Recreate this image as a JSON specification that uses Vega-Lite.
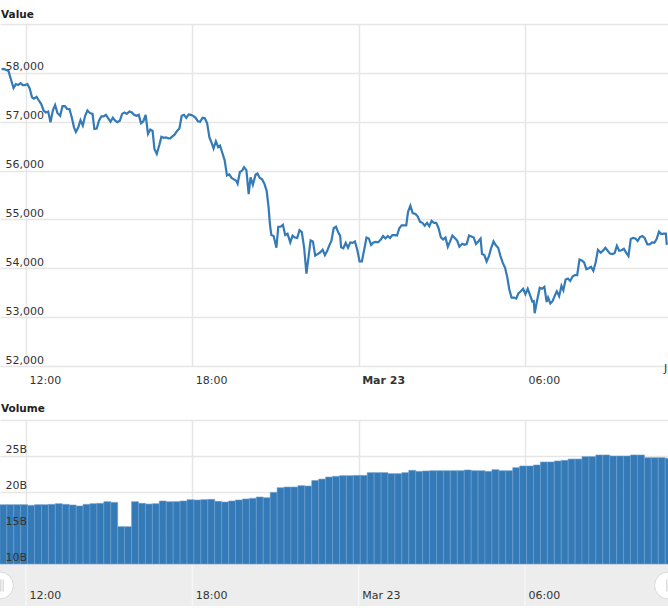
{"$schema":"https://vega.github.io/schema/vega-lite/v6.json","padding":{"left":0,"top":9,"right":0,"bottom":0},"background":"white","spacing":18,"config":{"font":"DejaVu Sans","view":{"stroke":null},"title":{"anchor":"start","fontSize":10.5,"fontWeight":"bold","color":"#222222","dx":1}},
"datasets":{"ticks":[{"t":"2021-03-22T12:00Z"},{"t":"2021-03-22T18:00Z"},{"t":"2021-03-23T00:00Z"},{"t":"2021-03-23T06:00Z"}],
"note":[{"t":"2021-03-23T11:01Z","v":51940,"label":"J"}],
"handles":[{"t":"2021-03-22T11:03:42Z"},{"t":"2021-03-23T11:09:36Z"}],
"grips":[{"t":"2021-03-22T11:05:12Z"},{"t":"2021-03-22T11:10:36Z"},{"t":"2021-03-23T11:07:00Z"}],
"vol":[{"t":"2021-03-22T11:11Z","v":18240000000},{"t":"2021-03-22T11:26Z","v":18240000000},{"t":"2021-03-22T11:41Z","v":18240000000},{"t":"2021-03-22T11:56Z","v":18240000000},{"t":"2021-03-22T12:11Z","v":18150000000},{"t":"2021-03-22T12:26Z","v":18240000000},{"t":"2021-03-22T12:41Z","v":18240000000},{"t":"2021-03-22T12:56Z","v":18290000000},{"t":"2021-03-22T13:11Z","v":18380000000},{"t":"2021-03-22T13:26Z","v":18290000000},{"t":"2021-03-22T13:41Z","v":18200000000},{"t":"2021-03-22T13:56Z","v":18060000000},{"t":"2021-03-22T14:11Z","v":18290000000},{"t":"2021-03-22T14:26Z","v":18380000000},{"t":"2021-03-22T14:41Z","v":18430000000},{"t":"2021-03-22T14:56Z","v":18660000000},{"t":"2021-03-22T15:11Z","v":18560000000},{"t":"2021-03-22T15:26Z","v":15190000000},{"t":"2021-03-22T15:41Z","v":15190000000},{"t":"2021-03-22T15:56Z","v":18660000000},{"t":"2021-03-22T16:11Z","v":18430000000},{"t":"2021-03-22T16:26Z","v":18330000000},{"t":"2021-03-22T16:41Z","v":18380000000},{"t":"2021-03-22T16:56Z","v":18750000000},{"t":"2021-03-22T17:11Z","v":18660000000},{"t":"2021-03-22T17:26Z","v":18660000000},{"t":"2021-03-22T17:41Z","v":18750000000},{"t":"2021-03-22T17:56Z","v":18940000000},{"t":"2021-03-22T18:11Z","v":18890000000},{"t":"2021-03-22T18:26Z","v":18940000000},{"t":"2021-03-22T18:41Z","v":18980000000},{"t":"2021-03-22T18:56Z","v":18700000000},{"t":"2021-03-22T19:11Z","v":18610000000},{"t":"2021-03-22T19:26Z","v":18750000000},{"t":"2021-03-22T19:41Z","v":18890000000},{"t":"2021-03-22T19:56Z","v":19030000000},{"t":"2021-03-22T20:11Z","v":19120000000},{"t":"2021-03-22T20:26Z","v":19310000000},{"t":"2021-03-22T20:41Z","v":19210000000},{"t":"2021-03-22T20:56Z","v":19950000000},{"t":"2021-03-22T21:11Z","v":20600000000},{"t":"2021-03-22T21:26Z","v":20690000000},{"t":"2021-03-22T21:41Z","v":20690000000},{"t":"2021-03-22T21:56Z","v":20880000000},{"t":"2021-03-22T22:11Z","v":20830000000},{"t":"2021-03-22T22:26Z","v":21600000000},{"t":"2021-03-22T22:41Z","v":21800000000},{"t":"2021-03-22T22:56Z","v":22080000000},{"t":"2021-03-22T23:11Z","v":22180000000},{"t":"2021-03-22T23:26Z","v":22270000000},{"t":"2021-03-22T23:41Z","v":22270000000},{"t":"2021-03-22T23:56Z","v":22310000000},{"t":"2021-03-23T00:11Z","v":22310000000},{"t":"2021-03-23T00:26Z","v":22690000000},{"t":"2021-03-23T00:41Z","v":22690000000},{"t":"2021-03-23T00:56Z","v":22690000000},{"t":"2021-03-23T01:11Z","v":22550000000},{"t":"2021-03-23T01:26Z","v":22550000000},{"t":"2021-03-23T01:41Z","v":22690000000},{"t":"2021-03-23T01:56Z","v":23010000000},{"t":"2021-03-23T02:11Z","v":22870000000},{"t":"2021-03-23T02:26Z","v":22920000000},{"t":"2021-03-23T02:41Z","v":22960000000},{"t":"2021-03-23T02:56Z","v":22960000000},{"t":"2021-03-23T03:11Z","v":22960000000},{"t":"2021-03-23T03:26Z","v":22960000000},{"t":"2021-03-23T03:41Z","v":22960000000},{"t":"2021-03-23T03:56Z","v":23060000000},{"t":"2021-03-23T04:11Z","v":22960000000},{"t":"2021-03-23T04:26Z","v":22960000000},{"t":"2021-03-23T04:41Z","v":22870000000},{"t":"2021-03-23T04:56Z","v":23100000000},{"t":"2021-03-23T05:11Z","v":22960000000},{"t":"2021-03-23T05:26Z","v":22960000000},{"t":"2021-03-23T05:41Z","v":23380000000},{"t":"2021-03-23T05:56Z","v":23610000000},{"t":"2021-03-23T06:11Z","v":23610000000},{"t":"2021-03-23T06:26Z","v":23750000000},{"t":"2021-03-23T06:41Z","v":24170000000},{"t":"2021-03-23T06:56Z","v":24170000000},{"t":"2021-03-23T07:11Z","v":24310000000},{"t":"2021-03-23T07:26Z","v":24400000000},{"t":"2021-03-23T07:41Z","v":24580000000},{"t":"2021-03-23T07:56Z","v":24580000000},{"t":"2021-03-23T08:11Z","v":24910000000},{"t":"2021-03-23T08:26Z","v":24910000000},{"t":"2021-03-23T08:41Z","v":25140000000},{"t":"2021-03-23T08:56Z","v":25140000000},{"t":"2021-03-23T09:11Z","v":25000000000},{"t":"2021-03-23T09:26Z","v":25000000000},{"t":"2021-03-23T09:41Z","v":25000000000},{"t":"2021-03-23T09:56Z","v":25140000000},{"t":"2021-03-23T10:11Z","v":25140000000},{"t":"2021-03-23T10:26Z","v":24770000000},{"t":"2021-03-23T10:41Z","v":24770000000},{"t":"2021-03-23T10:56Z","v":24770000000},{"t":"2021-03-23T11:11Z","v":24680000000}],
"price":[{"t":"2021-03-22T11:07Z","v":58070},{"t":"2021-03-22T11:12Z","v":58080},{"t":"2021-03-22T11:17Z","v":58060},{"t":"2021-03-22T11:22Z","v":58040},{"t":"2021-03-22T11:27Z","v":57880},{"t":"2021-03-22T11:33Z","v":57690},{"t":"2021-03-22T11:38Z","v":57770},{"t":"2021-03-22T11:43Z","v":57750},{"t":"2021-03-22T11:48Z","v":57790},{"t":"2021-03-22T11:53Z","v":57750},{"t":"2021-03-22T11:58Z","v":57750},{"t":"2021-03-22T12:03Z","v":57770},{"t":"2021-03-22T12:08Z","v":57680},{"t":"2021-03-22T12:13Z","v":57500},{"t":"2021-03-22T12:17Z","v":57470},{"t":"2021-03-22T12:23Z","v":57510},{"t":"2021-03-22T12:28Z","v":57430},{"t":"2021-03-22T12:33Z","v":57360},{"t":"2021-03-22T12:38Z","v":57230},{"t":"2021-03-22T12:43Z","v":57190},{"t":"2021-03-22T12:48Z","v":57210},{"t":"2021-03-22T12:53Z","v":56990},{"t":"2021-03-22T12:58Z","v":57230},{"t":"2021-03-22T13:03Z","v":57340},{"t":"2021-03-22T13:08Z","v":57180},{"t":"2021-03-22T13:14Z","v":57120},{"t":"2021-03-22T13:19Z","v":57320},{"t":"2021-03-22T13:24Z","v":57320},{"t":"2021-03-22T13:29Z","v":57260},{"t":"2021-03-22T13:34Z","v":57260},{"t":"2021-03-22T13:39Z","v":57090},{"t":"2021-03-22T13:44Z","v":56880},{"t":"2021-03-22T13:48Z","v":56790},{"t":"2021-03-22T13:53Z","v":56880},{"t":"2021-03-22T13:58Z","v":57030},{"t":"2021-03-22T14:03Z","v":56920},{"t":"2021-03-22T14:08Z","v":57120},{"t":"2021-03-22T14:13Z","v":57230},{"t":"2021-03-22T14:18Z","v":57180},{"t":"2021-03-22T14:24Z","v":57160},{"t":"2021-03-22T14:28Z","v":56850},{"t":"2021-03-22T14:33Z","v":56860},{"t":"2021-03-22T14:38Z","v":57020},{"t":"2021-03-22T14:43Z","v":57110},{"t":"2021-03-22T14:48Z","v":57110},{"t":"2021-03-22T14:53Z","v":57140},{"t":"2021-03-22T14:58Z","v":57070},{"t":"2021-03-22T15:03Z","v":57000},{"t":"2021-03-22T15:08Z","v":57080},{"t":"2021-03-22T15:13Z","v":57020},{"t":"2021-03-22T15:18Z","v":56990},{"t":"2021-03-22T15:23Z","v":57020},{"t":"2021-03-22T15:28Z","v":57160},{"t":"2021-03-22T15:33Z","v":57190},{"t":"2021-03-22T15:38Z","v":57160},{"t":"2021-03-22T15:44Z","v":57210},{"t":"2021-03-22T15:49Z","v":57190},{"t":"2021-03-22T15:54Z","v":57140},{"t":"2021-03-22T15:59Z","v":57120},{"t":"2021-03-22T16:04Z","v":57140},{"t":"2021-03-22T16:09Z","v":56970},{"t":"2021-03-22T16:14Z","v":57010},{"t":"2021-03-22T16:19Z","v":57140},{"t":"2021-03-22T16:24Z","v":56750},{"t":"2021-03-22T16:29Z","v":56840},{"t":"2021-03-22T16:34Z","v":56810},{"t":"2021-03-22T16:38Z","v":56440},{"t":"2021-03-22T16:43Z","v":56340},{"t":"2021-03-22T16:49Z","v":56540},{"t":"2021-03-22T16:53Z","v":56690},{"t":"2021-03-22T16:58Z","v":56670},{"t":"2021-03-22T17:03Z","v":56680},{"t":"2021-03-22T17:08Z","v":56660},{"t":"2021-03-22T17:12Z","v":56660},{"t":"2021-03-22T17:17Z","v":56700},{"t":"2021-03-22T17:22Z","v":56740},{"t":"2021-03-22T17:27Z","v":56810},{"t":"2021-03-22T17:32Z","v":56860},{"t":"2021-03-22T17:37Z","v":57120},{"t":"2021-03-22T17:42Z","v":57140},{"t":"2021-03-22T17:47Z","v":57080},{"t":"2021-03-22T17:52Z","v":57150},{"t":"2021-03-22T17:57Z","v":57140},{"t":"2021-03-22T18:02Z","v":57120},{"t":"2021-03-22T18:07Z","v":57080},{"t":"2021-03-22T18:12Z","v":57010},{"t":"2021-03-22T18:17Z","v":57000},{"t":"2021-03-22T18:22Z","v":57080},{"t":"2021-03-22T18:27Z","v":57070},{"t":"2021-03-22T18:32Z","v":56970},{"t":"2021-03-22T18:37Z","v":56680},{"t":"2021-03-22T18:42Z","v":56560},{"t":"2021-03-22T18:46Z","v":56450},{"t":"2021-03-22T18:51Z","v":56600},{"t":"2021-03-22T18:56Z","v":56480},{"t":"2021-03-22T19:00Z","v":56510},{"t":"2021-03-22T19:05Z","v":56360},{"t":"2021-03-22T19:10Z","v":56210},{"t":"2021-03-22T19:15Z","v":55900},{"t":"2021-03-22T19:20Z","v":55920},{"t":"2021-03-22T19:25Z","v":55850},{"t":"2021-03-22T19:30Z","v":55820},{"t":"2021-03-22T19:35Z","v":55790},{"t":"2021-03-22T19:38Z","v":55730},{"t":"2021-03-22T19:43Z","v":55970},{"t":"2021-03-22T19:48Z","v":56000},{"t":"2021-03-22T19:52Z","v":56070},{"t":"2021-03-22T19:57Z","v":56010},{"t":"2021-03-22T20:02Z","v":55520},{"t":"2021-03-22T20:06Z","v":55860},{"t":"2021-03-22T20:11Z","v":55710},{"t":"2021-03-22T20:17Z","v":55920},{"t":"2021-03-22T20:21Z","v":55940},{"t":"2021-03-22T20:26Z","v":55850},{"t":"2021-03-22T20:31Z","v":55820},{"t":"2021-03-22T20:36Z","v":55730},{"t":"2021-03-22T20:41Z","v":55580},{"t":"2021-03-22T20:45Z","v":55250},{"t":"2021-03-22T20:48Z","v":54900},{"t":"2021-03-22T20:51Z","v":54680},{"t":"2021-03-22T20:56Z","v":54660},{"t":"2021-03-22T21:02Z","v":54420},{"t":"2021-03-22T21:06Z","v":54850},{"t":"2021-03-22T21:11Z","v":54850},{"t":"2021-03-22T21:16Z","v":54890},{"t":"2021-03-22T21:21Z","v":54680},{"t":"2021-03-22T21:26Z","v":54710},{"t":"2021-03-22T21:32Z","v":54530},{"t":"2021-03-22T21:37Z","v":54670},{"t":"2021-03-22T21:42Z","v":54630},{"t":"2021-03-22T21:47Z","v":54620},{"t":"2021-03-22T21:52Z","v":54780},{"t":"2021-03-22T21:57Z","v":54740},{"t":"2021-03-22T22:02Z","v":54420},{"t":"2021-03-22T22:07Z","v":53890},{"t":"2021-03-22T22:12Z","v":54270},{"t":"2021-03-22T22:16Z","v":54570},{"t":"2021-03-22T22:21Z","v":54550},{"t":"2021-03-22T22:26Z","v":54260},{"t":"2021-03-22T22:31Z","v":54290},{"t":"2021-03-22T22:36Z","v":54320},{"t":"2021-03-22T22:42Z","v":54380},{"t":"2021-03-22T22:47Z","v":54270},{"t":"2021-03-22T22:52Z","v":54360},{"t":"2021-03-22T22:57Z","v":54480},{"t":"2021-03-22T23:01Z","v":54560},{"t":"2021-03-22T23:06Z","v":54820},{"t":"2021-03-22T23:11Z","v":54850},{"t":"2021-03-22T23:16Z","v":54730},{"t":"2021-03-22T23:20Z","v":54670},{"t":"2021-03-22T23:22Z","v":54430},{"t":"2021-03-22T23:27Z","v":54410},{"t":"2021-03-22T23:32Z","v":54520},{"t":"2021-03-22T23:37Z","v":54420},{"t":"2021-03-22T23:42Z","v":54530},{"t":"2021-03-22T23:47Z","v":54520},{"t":"2021-03-22T23:52Z","v":54550},{"t":"2021-03-22T23:57Z","v":54380},{"t":"2021-03-23T00:02Z","v":54140},{"t":"2021-03-23T00:07Z","v":54140},{"t":"2021-03-23T00:12Z","v":54380},{"t":"2021-03-23T00:17Z","v":54630},{"t":"2021-03-23T00:22Z","v":54610},{"t":"2021-03-23T00:27Z","v":54480},{"t":"2021-03-23T00:32Z","v":54530},{"t":"2021-03-23T00:37Z","v":54540},{"t":"2021-03-23T00:42Z","v":54530},{"t":"2021-03-23T00:48Z","v":54590},{"t":"2021-03-23T00:53Z","v":54660},{"t":"2021-03-23T00:58Z","v":54610},{"t":"2021-03-23T01:03Z","v":54660},{"t":"2021-03-23T01:08Z","v":54620},{"t":"2021-03-23T01:13Z","v":54680},{"t":"2021-03-23T01:18Z","v":54680},{"t":"2021-03-23T01:23Z","v":54670},{"t":"2021-03-23T01:28Z","v":54820},{"t":"2021-03-23T01:33Z","v":54880},{"t":"2021-03-23T01:38Z","v":54880},{"t":"2021-03-23T01:43Z","v":54880},{"t":"2021-03-23T01:47Z","v":55160},{"t":"2021-03-23T01:52Z","v":55280},{"t":"2021-03-23T01:57Z","v":55130},{"t":"2021-03-23T02:03Z","v":55110},{"t":"2021-03-23T02:08Z","v":55060},{"t":"2021-03-23T02:13Z","v":54950},{"t":"2021-03-23T02:18Z","v":54930},{"t":"2021-03-23T02:23Z","v":54870},{"t":"2021-03-23T02:28Z","v":54930},{"t":"2021-03-23T02:33Z","v":54860},{"t":"2021-03-23T02:38Z","v":54970},{"t":"2021-03-23T02:43Z","v":54930},{"t":"2021-03-23T02:48Z","v":54930},{"t":"2021-03-23T02:53Z","v":54820},{"t":"2021-03-23T02:58Z","v":54630},{"t":"2021-03-23T03:03Z","v":54590},{"t":"2021-03-23T03:08Z","v":54630},{"t":"2021-03-23T03:13Z","v":54440},{"t":"2021-03-23T03:18Z","v":54550},{"t":"2021-03-23T03:23Z","v":54670},{"t":"2021-03-23T03:28Z","v":54620},{"t":"2021-03-23T03:33Z","v":54570},{"t":"2021-03-23T03:38Z","v":54440},{"t":"2021-03-23T03:44Z","v":54500},{"t":"2021-03-23T03:49Z","v":54480},{"t":"2021-03-23T03:54Z","v":54500},{"t":"2021-03-23T03:59Z","v":54670},{"t":"2021-03-23T04:04Z","v":54650},{"t":"2021-03-23T04:09Z","v":54630},{"t":"2021-03-23T04:14Z","v":54500},{"t":"2021-03-23T04:19Z","v":54550},{"t":"2021-03-23T04:24Z","v":54610},{"t":"2021-03-23T04:27Z","v":54290},{"t":"2021-03-23T04:32Z","v":54270},{"t":"2021-03-23T04:37Z","v":54140},{"t":"2021-03-23T04:42Z","v":54250},{"t":"2021-03-23T04:47Z","v":54420},{"t":"2021-03-23T04:52Z","v":54550},{"t":"2021-03-23T04:57Z","v":54470},{"t":"2021-03-23T05:02Z","v":54420},{"t":"2021-03-23T05:07Z","v":54250},{"t":"2021-03-23T05:12Z","v":54110},{"t":"2021-03-23T05:17Z","v":54010},{"t":"2021-03-23T05:22Z","v":53800},{"t":"2021-03-23T05:26Z","v":53570},{"t":"2021-03-23T05:31Z","v":53400},{"t":"2021-03-23T05:36Z","v":53400},{"t":"2021-03-23T05:41Z","v":53380},{"t":"2021-03-23T05:46Z","v":53490},{"t":"2021-03-23T05:51Z","v":53530},{"t":"2021-03-23T05:56Z","v":53580},{"t":"2021-03-23T06:01Z","v":53470},{"t":"2021-03-23T06:06Z","v":53580},{"t":"2021-03-23T06:11Z","v":53450},{"t":"2021-03-23T06:16Z","v":53320},{"t":"2021-03-23T06:19Z","v":53330},{"t":"2021-03-23T06:21Z","v":53080},{"t":"2021-03-23T06:26Z","v":53330},{"t":"2021-03-23T06:32Z","v":53600},{"t":"2021-03-23T06:37Z","v":53580},{"t":"2021-03-23T06:42Z","v":53620},{"t":"2021-03-23T06:47Z","v":53310},{"t":"2021-03-23T06:50Z","v":53400},{"t":"2021-03-23T06:55Z","v":53280},{"t":"2021-03-23T07:00Z","v":53330},{"t":"2021-03-23T07:05Z","v":53450},{"t":"2021-03-23T07:09Z","v":53530},{"t":"2021-03-23T07:14Z","v":53430},{"t":"2021-03-23T07:19Z","v":53640},{"t":"2021-03-23T07:23Z","v":53550},{"t":"2021-03-23T07:28Z","v":53770},{"t":"2021-03-23T07:33Z","v":53790},{"t":"2021-03-23T07:38Z","v":53740},{"t":"2021-03-23T07:43Z","v":53830},{"t":"2021-03-23T07:48Z","v":53860},{"t":"2021-03-23T07:53Z","v":53860},{"t":"2021-03-23T07:58Z","v":54180},{"t":"2021-03-23T08:03Z","v":54160},{"t":"2021-03-23T08:08Z","v":54120},{"t":"2021-03-23T08:13Z","v":53980},{"t":"2021-03-23T08:18Z","v":54000},{"t":"2021-03-23T08:23Z","v":54030},{"t":"2021-03-23T08:28Z","v":53950},{"t":"2021-03-23T08:33Z","v":54120},{"t":"2021-03-23T08:38Z","v":54380},{"t":"2021-03-23T08:44Z","v":54320},{"t":"2021-03-23T08:49Z","v":54360},{"t":"2021-03-23T08:54Z","v":54420},{"t":"2021-03-23T08:59Z","v":54360},{"t":"2021-03-23T09:04Z","v":54300},{"t":"2021-03-23T09:09Z","v":54290},{"t":"2021-03-23T09:14Z","v":54310},{"t":"2021-03-23T09:19Z","v":54460},{"t":"2021-03-23T09:24Z","v":54360},{"t":"2021-03-23T09:29Z","v":54370},{"t":"2021-03-23T09:34Z","v":54400},{"t":"2021-03-23T09:39Z","v":54320},{"t":"2021-03-23T09:44Z","v":54250},{"t":"2021-03-23T09:49Z","v":54600},{"t":"2021-03-23T09:54Z","v":54620},{"t":"2021-03-23T09:59Z","v":54610},{"t":"2021-03-23T10:04Z","v":54560},{"t":"2021-03-23T10:09Z","v":54640},{"t":"2021-03-23T10:14Z","v":54660},{"t":"2021-03-23T10:19Z","v":54620},{"t":"2021-03-23T10:25Z","v":54490},{"t":"2021-03-23T10:30Z","v":54490},{"t":"2021-03-23T10:35Z","v":54530},{"t":"2021-03-23T10:40Z","v":54520},{"t":"2021-03-23T10:45Z","v":54600},{"t":"2021-03-23T10:50Z","v":54750},{"t":"2021-03-23T10:55Z","v":54700},{"t":"2021-03-23T11:00Z","v":54710},{"t":"2021-03-23T11:05Z","v":54710},{"t":"2021-03-23T11:07Z","v":54480}]},
"vconcat":[
{"width":668,"height":342,"title":{"text":"Value","offset":-8},"resolve":{"axis":{"x":"independent","y":"independent"}},"layer":[
{"data":{"name":"price"},"mark":{"type":"line","color":"#337ab7","strokeWidth":2.2,"clip":true},"encoding":{
"x":{"field":"t","type":"temporal","title":null,"scale":{"type":"utc","domain":[{"year":2021,"month":3,"date":22,"hours":11,"minutes":3,"seconds":42,"utc":true},{"year":2021,"month":3,"date":23,"hours":11,"minutes":9,"seconds":36,"utc":true}]},
"axis":{"orient":"bottom","values":[{"year":2021,"month":3,"date":22,"hours":12,"utc":true},{"year":2021,"month":3,"date":22,"hours":18,"utc":true},{"year":2021,"month":3,"date":23,"hours":0,"utc":true},{"year":2021,"month":3,"date":23,"hours":6,"utc":true}],"domain":false,"ticks":false,"tickSize":0,"grid":true,"gridColor":"#e6e6e6","gridWidth":1.5,"labelAlign":"left","labelBaseline":"alphabetic","labelOffset":3,"labelPadding":17,"labelFontSize":11,"labelColor":"#333333","labelFlush":false,"labelOverlap":false,"labelExpr":"utchours(datum.value)==0 ? utcFormat(datum.value,'%b %d') : utcFormat(datum.value,'%H:%M')","labelFontWeight":{"condition":{"test":"utchours(datum.value)==0","value":"bold"},"value":"normal"}}},
"y":{"field":"v","type":"quantitative","title":null,"scale":{"domain":[52000,59000],"nice":false,"zero":false},
"axis":{"orient":"left","values":[52000,53000,54000,55000,56000,57000,58000,59000],"domain":false,"ticks":false,"tickSize":0,"grid":true,"gridColor":"#e6e6e6","gridWidth":1.5,"labelAlign":"left","labelBaseline":"middle","labelPadding":-5,"labelOffset":-6,"labelFontSize":11,"labelColor":"#333333","labelOverlap":false,"labelExpr":"datum.value==59000 ? '' : format(datum.value,',')"}}}},
{"data":{"name":"note"},"mark":{"type":"text","align":"left","baseline":"middle","fontSize":11,"color":"#333333"},"encoding":{"x":{"field":"t","type":"temporal","axis":null,"scale":{"type":"utc","domain":[{"year":2021,"month":3,"date":22,"hours":11,"minutes":3,"seconds":42,"utc":true},{"year":2021,"month":3,"date":23,"hours":11,"minutes":9,"seconds":36,"utc":true}]}},"y":{"field":"v","type":"quantitative","axis":null,"scale":{"domain":[52000,59000],"nice":false,"zero":false}},"text":{"field":"label"}}}
]},
{"width":668,"height":186,"title":{"text":"Volume","offset":6},"resolve":{"axis":{"x":"independent","y":"independent"}},"layer":[
{"data":{"values":[{"band":"navigator"}]},"mark":{"type":"rect","color":"#ededed"},"encoding":{"y":{"datum":4170000000,"type":"quantitative","axis":null,"scale":{"domain":[4170000000,30000000000],"nice":false,"zero":false}},"y2":{"datum":10000000000}}},
{"data":{"name":"ticks"},"mark":{"type":"rule","color":"#f6f6f6","strokeWidth":1.5},"encoding":{
"x":{"field":"t","type":"temporal","title":null,"scale":{"type":"utc","padding":0,"domain":[{"year":2021,"month":3,"date":22,"hours":11,"minutes":3,"seconds":42,"utc":true},{"year":2021,"month":3,"date":23,"hours":11,"minutes":9,"seconds":36,"utc":true}]},
"axis":{"orient":"bottom","values":[{"year":2021,"month":3,"date":22,"hours":12,"utc":true},{"year":2021,"month":3,"date":22,"hours":18,"utc":true},{"year":2021,"month":3,"date":23,"hours":0,"utc":true},{"year":2021,"month":3,"date":23,"hours":6,"utc":true}],"domain":false,"ticks":false,"labels":false,"grid":true,"gridColor":"#e6e6e6","gridWidth":1.5,"zindex":0}},
"y":{"datum":4170000000,"type":"quantitative","title":null,"scale":{"domain":[4170000000,30000000000],"nice":false,"zero":false},"axis":{"orient":"left","values":[10000000000,15000000000,20000000000,25000000000,30000000000],"domain":false,"ticks":false,"labels":false,"grid":true,"gridColor":"#e6e6e6","gridWidth":1.5,"zindex":0}},"y2":{"datum":10000000000}}},
{"data":{"name":"vol"},"mark":{"type":"bar","color":"#337ab7","size":6.93,"stroke":"#6d9fd0","strokeWidth":0.6,"clip":true},"encoding":{
"x":{"field":"t","type":"temporal","title":null,"scale":{"type":"utc","padding":0,"domain":[{"year":2021,"month":3,"date":22,"hours":11,"minutes":3,"seconds":42,"utc":true},{"year":2021,"month":3,"date":23,"hours":11,"minutes":9,"seconds":36,"utc":true}]},
"axis":{"orient":"bottom","values":[{"year":2021,"month":3,"date":22,"hours":12,"utc":true},{"year":2021,"month":3,"date":22,"hours":18,"utc":true},{"year":2021,"month":3,"date":23,"hours":0,"utc":true},{"year":2021,"month":3,"date":23,"hours":6,"utc":true}],"domain":false,"ticks":false,"tickSize":0,"grid":false,"labelAlign":"left","labelBaseline":"alphabetic","labelOffset":3,"labelPadding":-8,"labelFontSize":11,"labelColor":"#333333","labelFlush":false,"labelOverlap":false,"zindex":1,"labelExpr":"utchours(datum.value)==0 ? utcFormat(datum.value,'%b %d') : utcFormat(datum.value,'%H:%M')"}},
"y":{"field":"v","type":"quantitative","title":null,"scale":{"domain":[4170000000,30000000000],"nice":false,"zero":false},"axis":{"orient":"left","values":[10000000000,15000000000,20000000000,25000000000],"domain":false,"ticks":false,"tickSize":0,"grid":false,"labelAlign":"left","labelBaseline":"middle","labelPadding":-5,"labelOffset":-7,"labelFontSize":11,"labelColor":"#333333","labelOverlap":false,"zindex":1,"labelExpr":"(datum.value/1000000000)+'B'"}},"y2":{"datum":10000000000}}},
{"data":{"name":"handles"},"mark":{"type":"point","filled":true,"shape":"circle","size":720,"color":"#ffffff","stroke":"#d9d9d9","strokeWidth":1,"opacity":1,"clip":true},"encoding":{"x":{"field":"t","type":"temporal","axis":null,"scale":{"type":"utc","padding":0,"domain":[{"year":2021,"month":3,"date":22,"hours":11,"minutes":3,"seconds":42,"utc":true},{"year":2021,"month":3,"date":23,"hours":11,"minutes":9,"seconds":36,"utc":true}]}},"y":{"datum":7020000000,"type":"quantitative","axis":null,"scale":{"domain":[4170000000,30000000000],"nice":false,"zero":false}}}},
{"data":{"name":"grips"},"mark":{"type":"tick","orient":"vertical","size":12,"thickness":1.5,"color":"#cccccc","clip":true},"encoding":{"x":{"field":"t","type":"temporal","axis":null,"scale":{"type":"utc","padding":0,"domain":[{"year":2021,"month":3,"date":22,"hours":11,"minutes":3,"seconds":42,"utc":true},{"year":2021,"month":3,"date":23,"hours":11,"minutes":9,"seconds":36,"utc":true}]}},"y":{"datum":7020000000,"type":"quantitative","axis":null,"scale":{"domain":[4170000000,30000000000],"nice":false,"zero":false}}}}
]}
]}
